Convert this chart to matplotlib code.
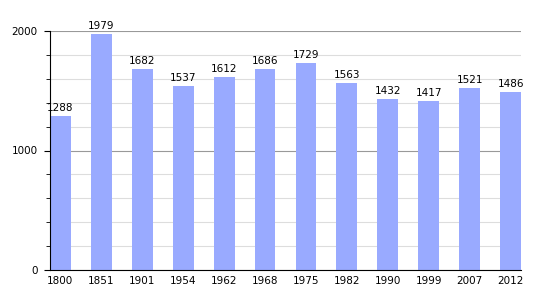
import matplotlib
matplotlib.use("Agg")
import matplotlib.pyplot as plt
from matplotlib.ticker import MultipleLocator

years = ["1800", "1851", "1901", "1954", "1962", "1968", "1975", "1982", "1990", "1999", "2007", "2012"]
population = [1288, 1979, 1682, 1537, 1612, 1686, 1729, 1563, 1432, 1417, 1521, 1486]

fig = plt.figure(figsize=(5.5, 3.0), dpi=100)
ax = fig.add_axes([50/550, 30/300, 471/550, 239/300])

x = list(range(len(years)))
w = 0.51
ax.bar(x, population, width=w, color="#99aaff", zorder=2)
for xi, v in zip(x, population):
    ax.text(xi, v + 25, str(v), ha="center", va="bottom", fontsize=7.5, color="black", zorder=3)

ax.set_xlim(-w/2, len(years) - 1 + w/2)
ax.set_ylim(0, 2000)
ax.yaxis.set_major_locator(MultipleLocator(1000))
ax.yaxis.set_minor_locator(MultipleLocator(200))
ax.set_xticks(x)
ax.set_xticklabels(years)
ax.grid(which="minor", axis="y", color="#dddddd", linewidth=0.8, zorder=0)
ax.grid(which="major", axis="y", color="#999999", linewidth=0.8, zorder=0)
for s in ["top", "right"]:
    ax.spines[s].set_visible(False)
ax.spines["left"].set_color("black")
ax.spines["bottom"].set_color("black")
ax.tick_params(axis="x", length=0, labelsize=7.5, pad=4)
ax.tick_params(axis="y", which="major", length=4, labelsize=7.5, pad=5)
ax.tick_params(axis="y", which="minor", length=3)
fig.savefig("out.png", dpi=100)
